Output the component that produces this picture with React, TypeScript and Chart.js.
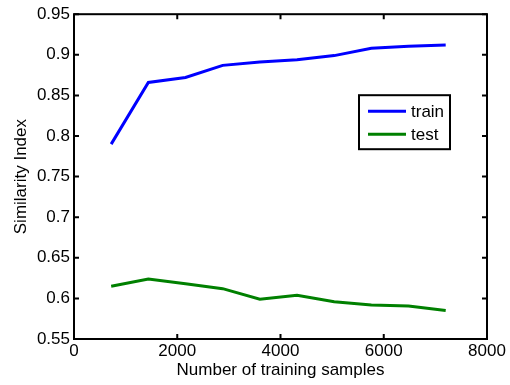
import React, { useEffect, useRef } from "react";
import { Chart, registerables } from "chart.js";

Chart.register(...registerables);

const samples = [720, 1440, 2160, 2880, 3600, 4320, 5040, 5760, 6480, 7200];
const trainValues = [0.79, 0.866, 0.872, 0.887, 0.891, 0.894, 0.899, 0.908, 0.9105, 0.912];
const testValues = [0.615, 0.624, 0.618, 0.612, 0.599, 0.604, 0.596, 0.592, 0.5905, 0.585];
const seriesNames = ["train", "test"];
const seriesColors = ["#0000ff", "#008000"];
const xTicks = [0, 2000, 4000, 6000, 8000];
const yTicks = [0.55, 0.6, 0.65, 0.7, 0.75, 0.8, 0.85, 0.9, 0.95];

const FONT = "'Liberation Sans', Arial, Helvetica, sans-serif";
const FS = 17;

const framePlugin = {
  id: "frame",
  afterDraw(chart: any) {
    const { ctx, chartArea } = chart;
    const { left, right, top, bottom } = chartArea;
    const xs = chart.scales.x;
    const ys = chart.scales.y;
    ctx.save();
    ctx.strokeStyle = "#000";
    ctx.lineWidth = 2;
    const tl = 5;
    ctx.beginPath();
    for (const v of xTicks) {
      const px = xs.getPixelForValue(v);
      ctx.moveTo(px, bottom);
      ctx.lineTo(px, bottom - tl);
      ctx.moveTo(px, top);
      ctx.lineTo(px, top + tl);
    }
    for (const v of yTicks) {
      const py = ys.getPixelForValue(v);
      ctx.moveTo(left, py);
      ctx.lineTo(left + tl, py);
      ctx.moveTo(right, py);
      ctx.lineTo(right - tl, py);
    }
    ctx.stroke();
    ctx.strokeRect(left, top, right - left, bottom - top);

    // legend
    const lx = left + 285;
    const ly = top + 81;
    const lw = 91;
    const lh = 54;
    ctx.fillStyle = "#fff";
    ctx.fillRect(lx, ly, lw, lh);
    ctx.lineWidth = 2;
    ctx.strokeRect(lx, ly, lw, lh);
    ctx.font = `${FS}px ${FONT}`;
    ctx.textBaseline = "middle";
    ctx.textAlign = "left";
    seriesNames.forEach((name, i) => {
      const ry = ly + 16 + i * 23;
      ctx.strokeStyle = seriesColors[i];
      ctx.lineWidth = 3;
      ctx.beginPath();
      ctx.moveTo(lx + 9, ry);
      ctx.lineTo(lx + 47, ry);
      ctx.stroke();
      ctx.fillStyle = "#000";
      ctx.fillText(name, lx + 52, ry + 1);
    });
    ctx.restore();
  },
};

export default function App() {
  const ref = useRef<HTMLCanvasElement | null>(null);
  useEffect(() => {
    if (!ref.current) return;
    const chart = new Chart(ref.current, {
      type: "line",
      data: {
        datasets: [
          {
            label: seriesNames[0],
            data: samples.map((x, i) => ({ x, y: trainValues[i] })),
            borderColor: seriesColors[0],
            borderWidth: 3,
            pointRadius: 0,
            tension: 0,
          },
          {
            label: seriesNames[1],
            data: samples.map((x, i) => ({ x, y: testValues[i] })),
            borderColor: seriesColors[1],
            borderWidth: 3,
            pointRadius: 0,
            tension: 0,
          },
        ],
      },
      options: {
        animation: false,
        responsive: true,
        maintainAspectRatio: false,
        layout: { padding: { top: 14, right: 23, left: 0, bottom: 0 } },
        plugins: { legend: { display: false }, tooltip: { enabled: false } },
        scales: {
          x: {
            type: "linear",
            min: 0,
            max: 8000,
            grid: { display: false, drawTicks: false },
            border: { display: false },
            afterBuildTicks: (s: any) => {
              s.ticks = xTicks.map((v) => ({ value: v }));
            },
            afterFit: (s: any) => {
              s.height = 385 - 339;
            },
            ticks: {
              color: "#000",
              font: { family: FONT, size: FS },
              padding: 2,
              maxRotation: 0,
              callback: (v: any) => String(v),
            },
            title: {
              display: true,
              text: "Number of training samples",
              color: "#000",
              font: { family: FONT, size: FS },
              padding: { top: 0, bottom: 4 },
            },
          },
          y: {
            type: "linear",
            min: 0.55,
            max: 0.95,
            grid: { display: false, drawTicks: false },
            border: { display: false },
            afterBuildTicks: (s: any) => {
              s.ticks = yTicks.map((v) => ({ value: v }));
            },
            afterFit: (s: any) => {
              s.width = 74;
            },
            ticks: {
              color: "#000",
              font: { family: FONT, size: FS },
              padding: 4,
              callback: (v: any) => String(Number(Number(v).toFixed(2))),
            },
            title: {
              display: true,
              text: "Similarity Index",
              color: "#000",
              font: { family: FONT, size: FS },
              padding: { top: 11, bottom: 0 },
            },
          },
        },
      },
      plugins: [framePlugin],
    });
    return () => chart.destroy();
  }, []);
  return (
    <div style={{ position: "fixed", left: 0, top: 0, width: 510, height: 385, background: "#fff" }}>
      <canvas ref={ref} />
    </div>
  );
}
